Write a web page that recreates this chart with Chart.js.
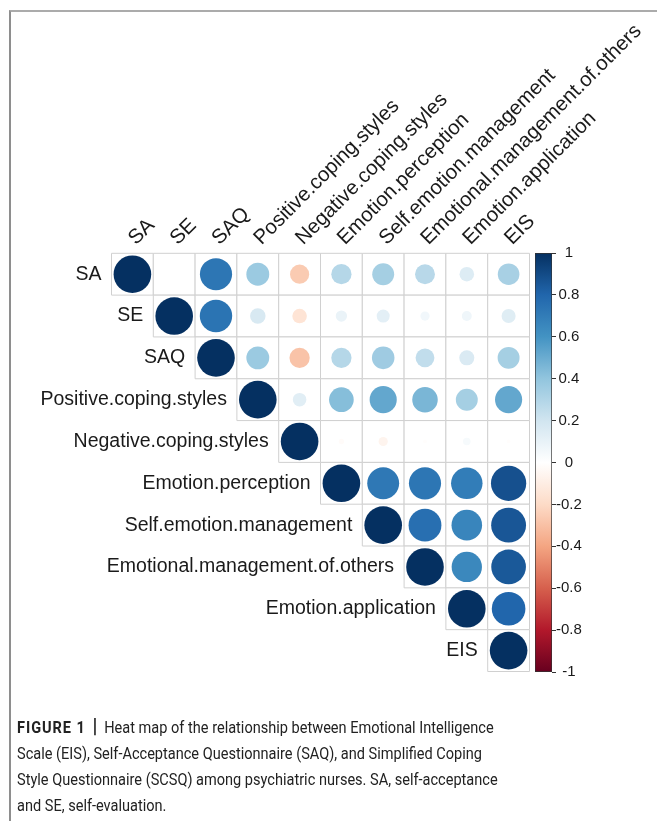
<!DOCTYPE html>
<html>
<head>
<meta charset="utf-8">
<script src="https://cdn.jsdelivr.net/npm/chart.js@4.4.0/dist/chart.umd.min.js"></script>
<style>
  html, body { margin: 0; padding: 0; background: #fff; }
  body { width: 657px; height: 821px; position: relative; overflow: hidden; }
  .frame { position: absolute; left: 9px; top: 10px; right: 0; bottom: 0;
    border-top: 2px solid #ababab; border-left: 2px solid #8e8e8e; }
  canvas { position: absolute; left: 0; top: 0; }
  #legend { pointer-events: none; }
  .caption { position: absolute; left: 17px; top: 713px; color: #222;
    font-family: "Roboto", sans-serif; font-size: 17px;
    line-height: 26px; white-space: nowrap;
    transform: scaleX(0.856); transform-origin: left top; }
  .caption b { letter-spacing: 1.1px; }
  .caption .sep { font-weight: 900; font-size: 20px; margin: 0 4px; color: #111; }
</style>
</head>
<body>
<div class="frame"></div>
<canvas id="corr" width="657" height="821"></canvas>
<canvas id="legend" width="657" height="821"></canvas>
<div class="caption">
  <b>FIGURE 1</b> <span class="sep">|</span> Heat map of the relationship between Emotional Intelligence<br>
  Scale (EIS), Self-Acceptance Questionnaire (SAQ), and Simplified Coping<br>
  Style Questionnaire (SCSQ) among psychiatric nurses. SA, self-acceptance<br>
  and SE, self-evaluation.
</div>
<script>
const vars = ['SA', 'SE', 'SAQ', 'Positive.coping.styles', 'Negative.coping.styles',
  'Emotion.perception', 'Self.emotion.management', 'Emotional.management.of.others',
  'Emotion.application', 'EIS'];

// upper triangle, each row starts at its own diagonal
const corrSA = [1, 0, 0.73, 0.37, -0.26, 0.29, 0.34, 0.28, 0.15, 0.33];
const corrSE = [1, 0.74, 0.17, -0.15, 0.09, 0.12, 0.06, 0.07, 0.14];
const corrSAQ = [1, 0.37, -0.29, 0.29, 0.36, 0.25, 0.16, 0.34];
const corrPositive = [1, 0.13, 0.43, 0.52, 0.46, 0.34, 0.52];
const corrNegative = [1, -0.02, -0.06, -0.01, 0.04, -0.01];
const corrPerception = [1, 0.72, 0.73, 0.70, 0.88];
const corrSelfMgmt = [1, 0.76, 0.66, 0.86];
const corrOthersMgmt = [1, 0.65, 0.85];
const corrApplication = [1, 0.80];
const corrEIS = [1];

const corrRows = [corrSA, corrSE, corrSAQ, corrPositive, corrNegative,
  corrPerception, corrSelfMgmt, corrOthersMgmt, corrApplication, corrEIS];

const legendTicks = [1, 0.8, 0.6, 0.4, 0.2, 0, -0.2, -0.4, -0.6, -0.8, -1];

// RdBu ramp, -1 .. 1
const palette = ['#67001F', '#B2182B', '#D6604D', '#F4A582', '#FDDBC7', '#FFFFFF',
  '#D1E5F0', '#92C5DE', '#4393C3', '#2166AC', '#053061'];

const fontFamily = '"Liberation Sans", Arial, sans-serif';
const rowFont = { family: fontFamily, size: 19.5 };
const colFont = { family: fontFamily, size: 20.5 };

function hexToRgb(hex) {
  const n = parseInt(hex.slice(1), 16);
  return [(n >> 16) & 255, (n >> 8) & 255, n & 255];
}

function colorFor(v) {
  const t = (v + 1) / 2 * (palette.length - 1);
  const i = Math.min(Math.floor(t), palette.length - 2);
  const f = t - i;
  const a = hexToRgb(palette[i]);
  const b = hexToRgb(palette[i + 1]);
  const mix = a.map((c, k) => Math.round(c + (b[k] - c) * f));
  return `rgb(${mix.join(',')})`;
}

const cellPoints = [];
const corrPoints = [];
corrRows.forEach((row, i) => {
  row.forEach((v, k) => {
    cellPoints.push({ x: vars[i + k], y: vars[i] });
    corrPoints.push({ x: vars[i + k], y: vars[i], v });
  });
});

function cellSize(chart) {
  const xs = chart.scales.x;
  return Math.abs(xs.getPixelForValue(1) - xs.getPixelForValue(0));
}

// row names sit just left of the diagonal cell
const rowLabels = {
  id: 'rowLabels',
  afterDatasetsDraw(chart) {
    const { ctx, scales: { x, y } } = chart;
    const half = cellSize(chart) / 2;
    ctx.save();
    ctx.font = `${rowFont.size}px ${rowFont.family}`;
    ctx.fillStyle = '#1a1a1a';
    ctx.textAlign = 'right';
    ctx.textBaseline = 'middle';
    vars.forEach((name, i) => {
      ctx.fillText(name, x.getPixelForValue(i) - half - 10, y.getPixelForValue(i));
    });
    ctx.restore();
  },
};

const gridTop = 253.3;

new Chart(document.getElementById('corr'), {
  type: 'scatter',
  data: {
    datasets: [{
      data: corrPoints,
      order: 0,
      clip: false,
      pointStyle: 'circle',
      pointRadius: (c) => (c.raw ? 0.45 * cellSize(c.chart) * Math.sqrt(Math.abs(c.raw.v)) : 0),
      backgroundColor: (c) => (c.raw ? colorFor(c.raw.v) : 'transparent'),
      borderWidth: 0,
    }, {
      data: cellPoints,
      order: 1,
      clip: false,
      pointStyle: 'rect',
      pointRadius: (c) => cellSize(c.chart) * Math.SQRT1_2,
      backgroundColor: '#ffffff',
      borderColor: '#d0d0d0',
      borderWidth: 1,
    }],
  },
  options: {
    responsive: false,
    animation: false,
    events: [],
    layout: { padding: { left: 111.5, right: 657 - 529.5, top: 12, bottom: 821 - 671.5 } },
    plugins: { legend: { display: false }, tooltip: { enabled: false } },
    scales: {
      x: {
        type: 'category',
        labels: vars,
        position: 'top',
        offset: true,
        grid: { display: false, drawTicks: false },
        border: { display: false },
        ticks: {
          autoSkip: false, minRotation: 45, maxRotation: 45,
          padding: 3, labelOffset: 17, color: '#1a1a1a', font: colFont,
        },
        afterFit: (s) => { s.height = gridTop - 12; s.paddingLeft = 0; s.paddingRight = 0; },
      },
      y: { type: 'category', labels: vars, offset: true, display: false },
    },
  },
  plugins: [rowLabels],
});

function legendFill(c) {
  const { chart } = c;
  if (!chart.chartArea) return palette[5];
  const y = chart.scales.y;
  const g = chart.ctx.createLinearGradient(0, y.getPixelForValue(-1), 0, y.getPixelForValue(1));
  palette.forEach((col, i) => g.addColorStop(i / (palette.length - 1), col));
  return g;
}

new Chart(document.getElementById('legend'), {
  type: 'bar',
  data: {
    labels: [''],
    datasets: [{
      data: [[-1, 1]],
      backgroundColor: legendFill,
      borderColor: '#333333',
      borderWidth: 1,
      borderSkipped: false,
      barPercentage: 1,
      categoryPercentage: 1,
    }],
  },
  options: {
    responsive: false,
    animation: false,
    events: [],
    layout: { padding: { left: 535, top: 253, bottom: 821 - 672, right: 657 - 552 - 40 } },
    plugins: { legend: { display: false }, tooltip: { enabled: false } },
    scales: {
      x: { display: false },
      y: {
        position: 'right',
        min: -1,
        max: 1,
        afterBuildTicks: (s) => { s.ticks = legendTicks.map((v) => ({ value: v })); },
        grid: { drawOnChartArea: false, drawTicks: true, tickLength: 4, color: '#333333' },
        border: { display: false },
        ticks: { crossAlign: 'center', padding: 0, color: '#1a1a1a', font: { family: fontFamily, size: 15 }, callback: (v) => String(v) },
        afterFit: (s) => { s.width = 40; s.paddingTop = 0; s.paddingBottom = 0; },
      },
    },
  },
});
</script>
</body>
</html>
